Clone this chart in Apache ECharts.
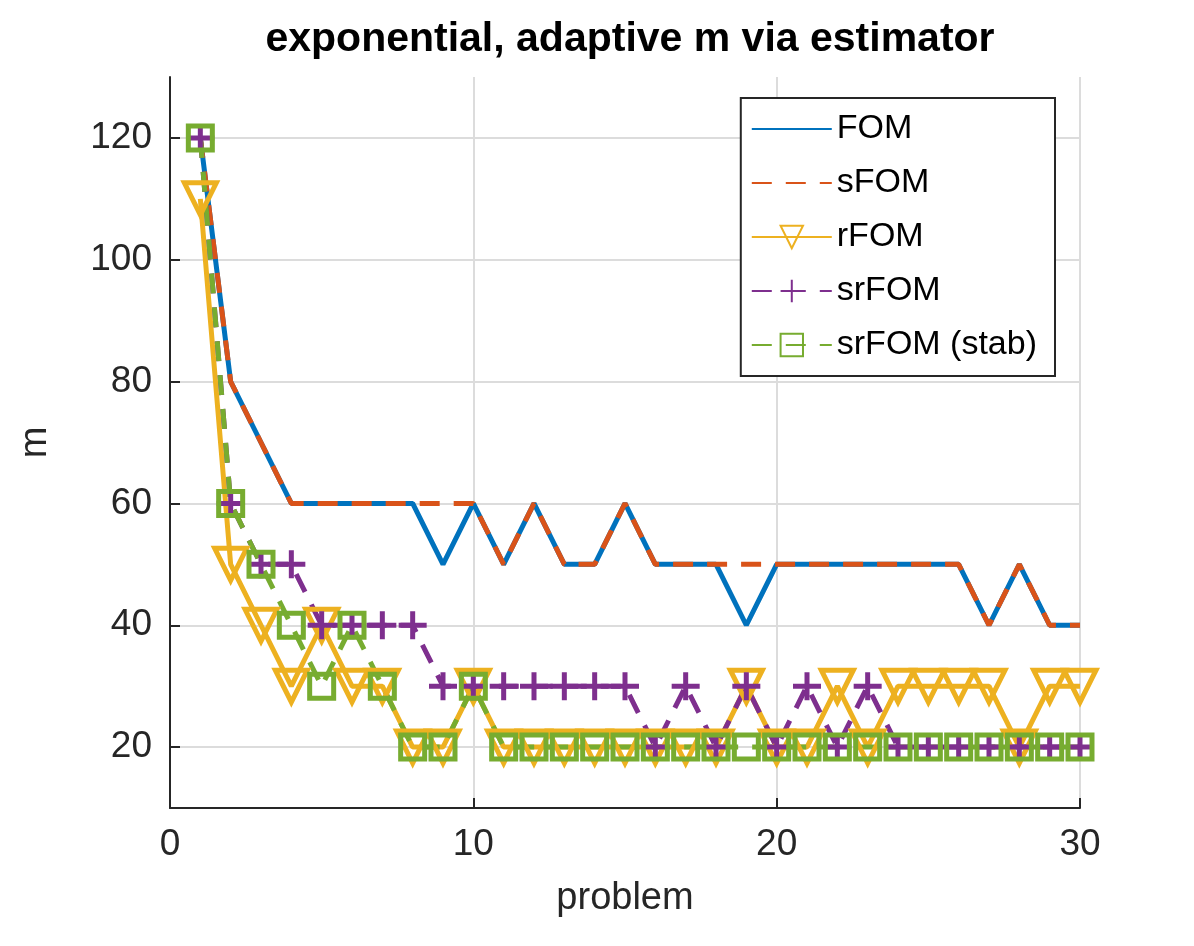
<!DOCTYPE html>
<html><head><meta charset="utf-8">
<script src="https://cdn.jsdelivr.net/npm/echarts@6/dist/echarts.min.js"></script>
<style>body{margin:0;background:#fff}#c{width:1194px;height:946px}</style>
</head><body><div id="c"></div>
<script>
const problems = Array.from({length: 30}, (_, i) => i + 1);
const fom   = [120,80,70,60,60,60,60,60,50,60,50,60,50,50,60,50,50,50,40,50,50,50,50,50,50,50,40,50,40,40];
const sfom  = [120,80,70,60,60,60,60,60,60,60,50,60,50,50,60,50,50,50,50,50,50,50,50,50,50,50,40,50,40,40];
const rfom  = [110,50,40,30,40,30,30,20,20,30,20,20,20,20,20,20,20,20,30,20,20,30,20,30,30,30,30,20,30,30];
const srfom = [120,60,50,50,40,40,40,40,30,30,30,30,30,30,30,20,30,20,30,20,30,20,30,20,20,20,20,20,20,20];
const stab  = [120,60,50,40,30,40,30,20,20,30,20,20,20,20,20,20,20,20,20,20,20,20,20,20,20,20,20,20,20,20];
const yTicks = [20, 40, 60, 80, 100, 120];

const pair = a => a.map((v, i) => [problems[i], v]);
const plus = 'path://M5,0L5,10M0,5L10,5';
const font = '"Liberation Sans", Arial, sans-serif';
const axisCol = '#262626';

const chart = echarts.init(document.getElementById('c'));
chart.setOption({
  animation: false,
  title: {text: 'exponential, adaptive m via estimator', left: 625, top: 14, textAlign: 'center',
    textStyle: {fontSize: 41, fontWeight: 'bold', color: '#000', fontFamily: font}},
  grid: {left: 170, right: 114, top: 77, bottom: 138},
  legend: {
    right: 139, top: 98, orient: 'vertical', itemWidth: 80, itemHeight: 28, itemGap: 20,
    borderColor: axisCol, borderWidth: 2, padding: [14, 18, 14, 10], backgroundColor: '#fff',
    textStyle: {fontSize: 34, color: '#000', fontFamily: font},
    data: [{name: 'FOM', itemStyle: {opacity: 0}}, {name: 'sFOM', itemStyle: {opacity: 0}},
      'rFOM', 'srFOM', 'srFOM (stab)']
  },
  xAxis: {type: 'value', min: 0, max: 30, interval: 10, name: 'problem', nameLocation: 'middle', nameGap: 72,
    nameTextStyle: {fontSize: 38, color: axisCol, fontFamily: font},
    axisLine: {onZero: false, lineStyle: {color: axisCol, width: 2}},
    axisTick: {inside: true, length: 10, lineStyle: {color: axisCol, width: 2}},
    axisLabel: {fontSize: 37, color: axisCol, margin: 18, fontFamily: font},
    splitLine: {lineStyle: {color: '#dcdcdc', width: 2}}},
  yAxis: {type: 'value', min: 10, max: 130, name: 'm', nameLocation: 'middle', nameGap: 115,
    nameTextStyle: {fontSize: 38, color: axisCol, fontFamily: font},
    axisLine: {onZero: false, lineStyle: {color: axisCol, width: 2}},
    axisTick: {inside: true, length: 10, customValues: yTicks, lineStyle: {color: axisCol, width: 2}},
    axisLabel: {fontSize: 37, color: axisCol, margin: 18, fontFamily: font, customValues: yTicks},
    splitLine: {show: false}},
  series: [
    {name: 'FOM', type: 'line', data: pair(fom), showSymbol: false, symbol: 'none',
      lineStyle: {color: '#0072bd', width: 5}, itemStyle: {color: '#0072bd'},
      markLine: {silent: true, symbol: 'none', label: {show: false}, z: 0,
        lineStyle: {color: '#dcdcdc', width: 2, type: 'solid'},
        data: yTicks.map(v => ({yAxis: v}))}},
    {name: 'sFOM', type: 'line', data: pair(sfom), showSymbol: false, symbol: 'none',
      lineStyle: {color: '#d95319', width: 5, type: [20, 14]}, itemStyle: {color: '#d95319'}},
    {name: 'rFOM', type: 'line', data: pair(rfom), symbol: 'triangle', symbolRotate: 180, symbolSize: 32,
      lineStyle: {color: '#edb120', width: 5},
      itemStyle: {color: 'rgba(0,0,0,0)', borderColor: '#edb120', borderWidth: 5}},
    {name: 'srFOM', type: 'line', data: pair(srfom), symbol: plus, symbolSize: 28,
      lineStyle: {color: '#7e2f8e', width: 5, type: [20, 14]},
      itemStyle: {color: 'rgba(0,0,0,0)', borderColor: '#7e2f8e', borderWidth: 5}},
    {name: 'srFOM (stab)', type: 'line', data: pair(stab), symbol: 'rect', symbolSize: 24,
      lineStyle: {color: '#77ac30', width: 5, type: [20, 14]},
      itemStyle: {color: 'rgba(0,0,0,0)', borderColor: '#77ac30', borderWidth: 5}}
  ]
});
</script></body></html>
